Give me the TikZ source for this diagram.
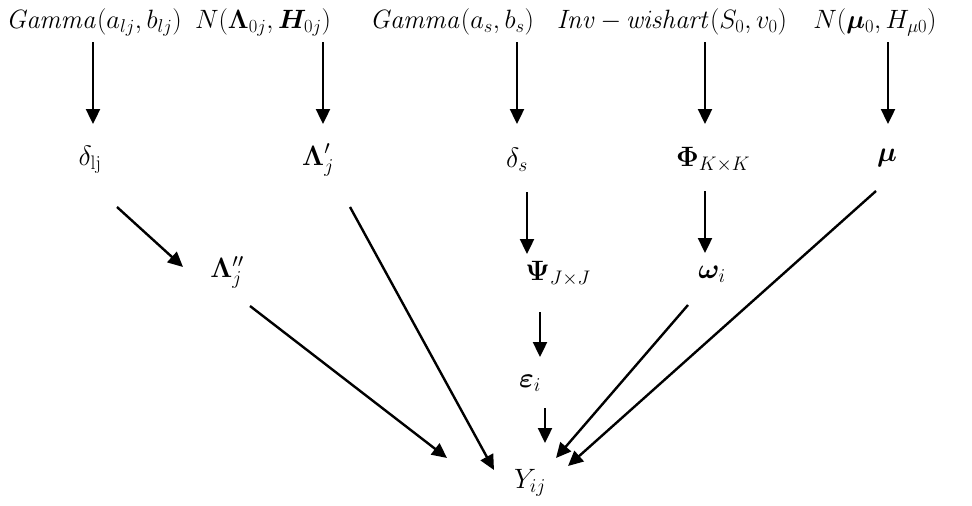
\documentclass[tikz,border=0pt]{standalone}
\usepackage{fix-cm}
\usepackage{amsmath,bm}
\usetikzlibrary{arrows.meta}
\begin{document}
\begin{tikzpicture}[x=1pt,y=-1pt,
  lbl/.style={inner sep=0pt,font=\fontsize{28}{32}\selectfont},
  top/.style={inner sep=0pt,font=\fontsize{26.5}{30}\selectfont},
  arr/.style={line width=2.4pt,-{Triangle[length=15pt,width=14pt]}}]
\useasboundingbox (0,0) rectangle (972,506);
% top row
\node[top] (g1) at (94,22) {$\mathit{Gamma}(a_{lj},b_{lj})$};
\node[top] (n1) at (263,22) {$N(\bm{\Lambda}_{0j},\bm{H}_{0j})$};
\node[top] (g2) at (452,22) {$\mathit{Gamma}(a_s,b_s)$};
\node[top] (iw) at (672,22) {$\mathit{Inv}\,{-}\,\mathit{wishart}(S_0,v_0)$};
\node[top] (n2) at (875,22) {$N(\bm{\mu}_0,H_{\mu 0})$};
% second row
\node[lbl] (dl) at (90,160) {$\delta_{\mathrm{lj}}$};
\node[lbl] (lp) at (318,160) {$\bm{\Lambda}'_j$};
\node[lbl] (ds) at (517,160) {$\delta_s$};
\node[lbl] (ph) at (713,160) {$\bm{\Phi}_{K\times K}$};
\node[lbl] (mu) at (887,158) {$\bm{\mu}$};
% third row
\node[lbl] (lpp) at (227,272) {$\bm{\Lambda}''_j$};
\node[lbl] (ps) at (558,274) {$\bm{\Psi}_{J\times J}$};
\node[lbl] (om) at (712,274) {$\bm{\omega}_i$};
\node[lbl] (ep) at (530,383) {$\bm{\varepsilon}_i$};
\node[lbl] (y) at (530,483) {$Y_{ij}$};
% connector end points
\coordinate (a1s) at (93,42);  \coordinate (a1e) at (93,124);
\coordinate (a2s) at (323,42); \coordinate (a2e) at (323,124);
\coordinate (a3s) at (517,42); \coordinate (a3e) at (517,124);
\coordinate (a4s) at (705,42); \coordinate (a4e) at (705,124);
\coordinate (a5s) at (888,42); \coordinate (a5e) at (888,124);
\coordinate (b1s) at (117,207); \coordinate (b1e) at (183,267);
\coordinate (b2s) at (350,207); \coordinate (b2e) at (494,470);
\coordinate (b3s) at (527,192); \coordinate (b3e) at (527,254);
\coordinate (b4s) at (705,191); \coordinate (b4e) at (705,253);
\coordinate (b5s) at (876,191); \coordinate (b5e) at (568,466);
\coordinate (c1s) at (250,306); \coordinate (c1e) at (447,458);
\coordinate (c2s) at (540,312); \coordinate (c2e) at (540,357);
\coordinate (c3s) at (688,305); \coordinate (c3e) at (556,458);
\coordinate (c4s) at (545,408); \coordinate (c4e) at (545,443);
% connectors
\draw[arr] (a1s) -- (a1e);
\draw[arr] (a2s) -- (a2e);
\draw[arr] (a3s) -- (a3e);
\draw[arr] (a4s) -- (a4e);
\draw[arr] (a5s) -- (a5e);
\draw[arr] (b1s) -- (b1e);
\draw[arr] (b2s) -- (b2e);
\draw[arr] (b3s) -- (b3e);
\draw[arr] (b4s) -- (b4e);
\draw[arr] (b5s) -- (b5e);
\draw[arr] (c1s) -- (c1e);
\draw[arr] (c2s) -- (c2e);
\draw[arr] (c3s) -- (c3e);
\draw[arr] (c4s) -- (c4e);
\end{tikzpicture}
\end{document}
